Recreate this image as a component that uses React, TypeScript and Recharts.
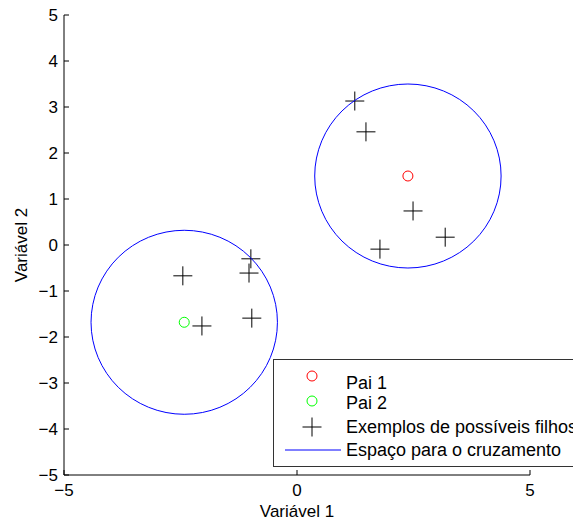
import { ScatterChart, Scatter, XAxis, YAxis, Legend } from 'recharts'

// values
const seriesNames = ['Pai 1', 'Pai 2', 'Exemplos de possíveis filhos', 'Espaço para o cruzamento']
const pai1 = [{ x: 2.38, y: 1.5 }]
const pai2 = [{ x: -2.42, y: -1.68 }]
const filhos = [
  { x: 1.24, y: 3.13 },
  { x: 1.48, y: 2.46 },
  { x: 2.49, y: 0.74 },
  { x: 1.78, y: -0.09 },
  { x: 3.18, y: 0.17 },
  { x: -2.45, y: -0.67 },
  { x: -0.99, y: -0.3 },
  { x: -1.03, y: -0.61 },
  { x: -2.04, y: -1.76 },
  { x: -0.97, y: -1.59 },
]
const espacos = [
  { x: 2.38, y: 1.5, r: 2 },
  { x: -2.42, y: -1.68, r: 2 },
]
const xTicks = [-5, 0, 5]
const yTicks = [-5, -4, -3, -2, -1, 0, 1, 2, 3, 4, 5]

const W = 573
const H = 520
const M = { top: 15, right: 43, left: 0, bottom: 0 }
const Y_W = 64
const X_H = 45
const FONT = '"Liberation Sans", Arial, Helvetica, sans-serif'
const FS = 17
// pixels per data unit, so the crossover circles keep their radius in data units
const PX_X = (W - M.left - M.right - Y_W) / 10
const PX_Y = (H - M.top - M.bottom - X_H) / 10

const fmt = (v: number) => (v < 0 ? '\u2212' + Math.abs(v) : String(v))

function XTick({ x, y, payload }: any) {
  const axisY = y - 9
  return (
    <g>
      <line x1={x} x2={x} y1={axisY} y2={axisY - 5} stroke="#000" />
      <text x={x} y={y} dy="0.71em" textAnchor="middle" fontSize={FS} fontFamily={FONT} fill="#000">
        {fmt(payload.value)}
      </text>
    </g>
  )
}

function YTick({ x, y, payload }: any) {
  const axisX = x + 6
  return (
    <g>
      <line x1={axisX} x2={axisX + 5} y1={y} y2={y} stroke="#000" />
      <text x={x} y={y} dy="0.355em" textAnchor="end" fontSize={FS} fontFamily={FONT} fill="#000">
        {fmt(payload.value)}
      </text>
    </g>
  )
}

const Ring = (props: any) => (
  <circle cx={props.cx} cy={props.cy} r={5} fill="none" stroke={props.stroke} strokeWidth={1} />
)

const Cross = (props: any) => (
  <g stroke="#000" strokeWidth={1}>
    <line x1={props.cx - 9.5} x2={props.cx + 9.5} y1={props.cy} y2={props.cy} />
    <line x1={props.cx} x2={props.cx} y1={props.cy - 9.5} y2={props.cy + 9.5} />
  </g>
)

const Espaco = (props: any) => (
  <ellipse
    cx={props.cx}
    cy={props.cy}
    rx={props.payload.r * PX_X}
    ry={props.payload.r * PX_Y}
    fill="none"
    stroke="#0000ff"
    strokeWidth={1}
  />
)

function LegendBox({ payload }: any) {
  // keep the series order, recharts sorts the payload by name
  const found = (payload || []).map((p: any) => p.value)
  const names = seriesNames.map((n) => (found.includes(n) ? n : n))
  const textProps = { x: 72, fontSize: 18, fontFamily: FONT, fill: '#000' }
  return (
    <div style={{ width: 320, height: 108, border: '1px solid #333', background: '#fff', boxSizing: 'border-box' }}>
      <svg width={320} height={106}>
        <circle cx={38} cy={16} r={5} fill="none" stroke="#ff0000" />
        <text {...textProps} y={29}>{names[0]}</text>
        <circle cx={38} cy={41} r={5} fill="none" stroke="#00ff00" />
        <text {...textProps} y={49}>{names[1]}</text>
        <line x1={28.5} x2={47.5} y1={67} y2={67} stroke="#000" />
        <line x1={38} x2={38} y1={57.5} y2={76.5} stroke="#000" />
        <text {...textProps} y={73}>{names[2]}</text>
        <line x1={11} x2={67} y1={90} y2={90} stroke="#0000ff" />
        <text {...textProps} y={96}>{names[3]}</text>
      </svg>
    </div>
  )
}

export default function App() {
  return (
    <div style={{ position: 'absolute', left: 0, top: 0, width: W, height: H, overflow: 'hidden', background: '#fff' }}>
      <ScatterChart width={W} height={H} margin={M}>
        <XAxis
          type="number"
          dataKey="x"
          domain={[-5, 5]}
          ticks={xTicks}
          allowDataOverflow
          height={X_H}
          stroke="#000"
          tickLine={false}
          tickSize={0}
          tickMargin={9}
          tick={<XTick />}
          label={(p: any) => {
            const vb = p.viewBox
            return (
              <text x={vb.x + vb.width / 2} y={517} textAnchor="middle" fontSize={FS} fontFamily={FONT} fill="#000">
                Variável 1
              </text>
            )
          }}
        />
        <YAxis
          type="number"
          dataKey="y"
          domain={[-5, 5]}
          ticks={yTicks}
          allowDataOverflow
          width={Y_W}
          stroke="#000"
          tickLine={false}
          tickSize={0}
          tickMargin={6}
          tick={<YTick />}
          label={(p: any) => {
            const vb = p.viewBox
            const cy = vb.y + vb.height / 2
            return (
              <text
                x={21}
                y={cy}
                dy="0.355em"
                transform={`rotate(-90, 21, ${cy})`}
                textAnchor="middle"
                fontSize={FS}
                fontFamily={FONT}
                fill="#000"
              >
                Variável 2
              </text>
            )
          }}
        />
        <Scatter name={seriesNames[0]} data={pai1} stroke="#ff0000" shape={<Ring />} isAnimationActive={false} />
        <Scatter name={seriesNames[1]} data={pai2} stroke="#00ff00" shape={<Ring />} isAnimationActive={false} />
        <Scatter name={seriesNames[2]} data={filhos} shape={<Cross />} isAnimationActive={false} />
        <Scatter name={seriesNames[3]} data={espacos} shape={<Espaco />} isAnimationActive={false} />
        <Legend
          layout="horizontal"
          verticalAlign="middle"
          align="center"
          content={<LegendBox />}
          wrapperStyle={{ left: 273, top: 359, width: 320, height: 108 }}
        />
      </ScatterChart>
    </div>
  )
}
